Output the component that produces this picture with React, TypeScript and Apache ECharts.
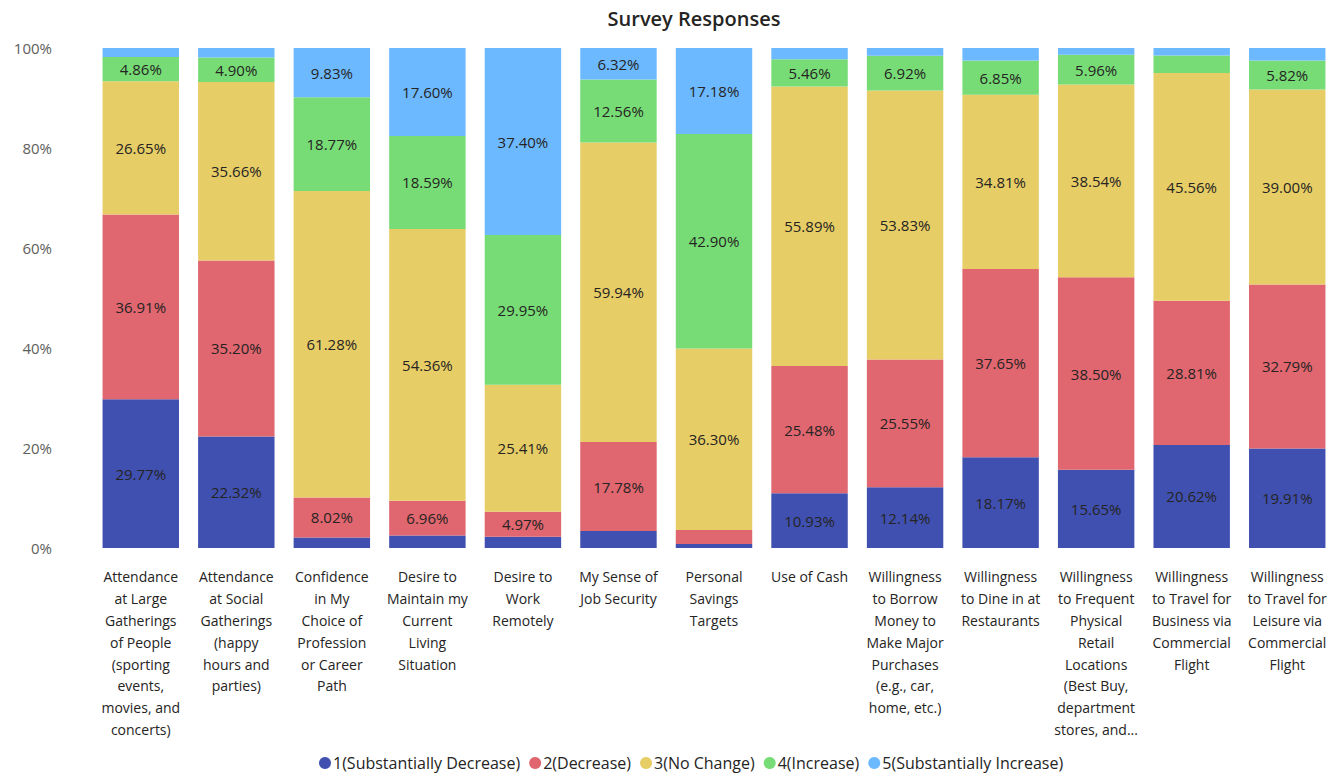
import React, { useEffect, useRef } from "react";
import * as echarts from "echarts";

const categories = [
  "Attendance\nat Large\nGatherings\nof People\n(sporting\nevents,\nmovies, and\nconcerts)",
  "Attendance\nat Social\nGatherings\n(happy\nhours and\nparties)",
  "Confidence\nin My\nChoice of\nProfession\nor Career\nPath",
  "Desire to\nMaintain my\nCurrent\nLiving\nSituation",
  "Desire to\nWork\nRemotely",
  "My Sense of\nJob Security",
  "Personal\nSavings\nTargets",
  "Use of Cash",
  "Willingness\nto Borrow\nMoney to\nMake Major\nPurchases\n(e.g., car,\nhome, etc.)",
  "Willingness\nto Dine in at\nRestaurants",
  "Willingness\nto Frequent\nPhysical\nRetail\nLocations\n(Best Buy,\ndepartment\nstores, and...",
  "Willingness\nto Travel for\nBusiness via\nCommercial\nFlight",
  "Willingness\nto Travel for\nLeisure via\nCommercial\nFlight",
];

const seriesNames = [
  "1(Substantially Decrease)",
  "2(Decrease)",
  "3(No Change)",
  "4(Increase)",
  "5(Substantially Increase)",
];

const substantiallyDecrease = [29.77, 22.32, 2.1, 2.49, 2.27, 3.4, 0.8, 10.93, 12.14, 18.17, 15.65, 20.62, 19.91];
const decrease = [36.91, 35.2, 8.02, 6.96, 4.97, 17.78, 2.82, 25.48, 25.55, 37.65, 38.5, 28.81, 32.79];
const noChange = [26.65, 35.66, 61.28, 54.36, 25.41, 59.94, 36.3, 55.89, 53.83, 34.81, 38.54, 45.56, 39.0];
const increase = [4.86, 4.9, 18.77, 18.59, 29.95, 12.56, 42.9, 5.46, 6.92, 6.85, 5.96, 3.5, 5.82];
const substantiallyIncrease = [1.81, 1.92, 9.83, 17.6, 37.4, 6.32, 17.18, 2.24, 1.56, 2.52, 1.35, 1.5, 2.48];

const yTicks = [0, 20, 40, 60, 80, 100];

const colors = ["#4050B0", "#E0666F", "#E7CD66", "#77DC76", "#6DB9FF"];

const FONT = "'Open Sans', 'Noto Sans', sans-serif";

export default function App() {
  const ref = useRef<HTMLDivElement>(null);

  useEffect(() => {
    if (!ref.current) return;
    const chart = echarts.init(ref.current, null, { renderer: "svg" });
    const allData = [substantiallyDecrease, decrease, noChange, increase, substantiallyIncrease];
    chart.setOption({
      animation: false,
      color: colors,
      textStyle: { fontFamily: FONT },
      title: {
        text: "Survey Responses",
        left: 689,
        top: 3,
        textAlign: "center",
        textStyle: { fontFamily: FONT, fontSize: 20, fontWeight: 600, color: "#252423" },
      },
      legend: {
        bottom: 1,
        left: 314,
        icon: "circle",
        itemWidth: 12,
        itemHeight: 12,
        itemGap: 9,
        textStyle: { fontFamily: FONT, fontSize: 16, color: "#252423", padding: [0, 0, 0, -3] },
        data: seriesNames,
      },
      grid: { left: 93, right: 1, top: 48, bottom: 229, containLabel: false },
      xAxis: {
        type: "category",
        data: categories,
        axisLine: { show: false },
        axisTick: { show: false },
        axisLabel: {
          interval: 0,
          margin: 18,
          fontFamily: FONT,
          fontSize: 14,
          lineHeight: 21.8,
          color: "#252423",
          verticalAlign: "top",
        },
      },
      yAxis: {
        type: "value",
        min: yTicks[0],
        max: yTicks[yTicks.length - 1],
        interval: 20,
        splitLine: { show: false },
        axisLine: { show: false },
        axisTick: { show: false },
        axisLabel: {
          formatter: "{value}%",
          fontFamily: FONT,
          fontSize: 15,
          color: "#605E5C",
          margin: 41,
        },
      },
      series: seriesNames.map((name, i) => ({
        name,
        type: "bar",
        stack: "total",
        barCategoryGap: "20%",
        data: allData[i],
        label: {
          show: true,
          position: "inside",
          fontFamily: FONT,
          fontSize: 15,
          color: "#252423",
          formatter: (p: any) => (p.value >= 4.5 ? p.value.toFixed(2) + "%" : ""),
        },
      })),
    });
    return () => chart.dispose();
  }, []);

  return (
    <div
      ref={ref}
      style={{ position: "absolute", left: 0, top: 0, width: 1336, height: 777 }}
    />
  );
}
